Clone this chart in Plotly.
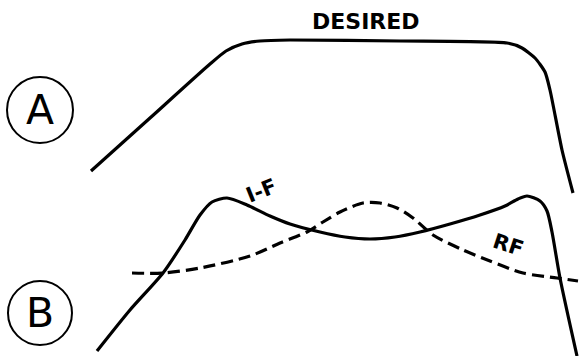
import plotly.graph_objects as go

# Schematic response curves (horizontal position, vertical position measured downward)
desired_x = [91, 150, 210, 226, 242, 260, 290, 400, 507, 522, 535, 545, 550, 562, 573]
desired_y = [171, 118, 64, 51, 44, 41, 40, 41, 43, 48, 58, 72, 90, 150, 193]

if_x = [97, 130, 163, 185, 200, 212, 227, 247, 270, 290, 320, 345, 370, 395, 420, 450, 480, 505, 518, 527, 540, 547, 552, 560, 577]
if_y = [351, 310, 273, 240, 215, 202, 198, 205, 216, 224, 232, 237, 239, 237, 232, 224, 215, 206, 199, 196, 201, 211, 232, 278, 356]

rf_x = [132, 163, 200, 250, 280, 307, 323, 340, 363, 380, 397, 413, 433, 463, 490, 523, 557, 578]
rf_y = [273, 273, 268, 256, 243, 232, 222, 212, 203, 203, 208, 218, 235, 250, 261, 273, 278, 281]

labels = ["DESIRED", "I-F", "RF"]
label_x = [366, 261, 508]
label_y = [21, 191, 245]
label_angle = [0, -22, 18]
label_size = [22, 21, 21]

circle_labels = ["A", "B"]
circle_cx = [40, 40]
circle_cy = [110, 313]
circle_r = [33, 32]

fig = go.Figure()
fig.add_trace(go.Scatter(x=desired_x, y=desired_y, mode="lines",
                         line=dict(color="black", width=3.2, shape="spline", smoothing=0.6),
                         hoverinfo="skip"))
fig.add_trace(go.Scatter(x=if_x, y=if_y, mode="lines",
                         line=dict(color="black", width=3.2, shape="spline", smoothing=0.7),
                         hoverinfo="skip"))
fig.add_trace(go.Scatter(x=rf_x, y=rf_y, mode="lines",
                         line=dict(color="black", width=3.2, shape="spline", smoothing=0.8,
                                   dash="12px,6px"),
                         hoverinfo="skip"))

for t, x, y, a, s in zip(labels, label_x, label_y, label_angle, label_size):
    fig.add_annotation(x=x, y=y, text=t, showarrow=False, textangle=a,
                       font=dict(family="DejaVu Sans", size=s, color="black", weight="bold"))

for t, cx, cy, r in zip(circle_labels, circle_cx, circle_cy, circle_r):
    fig.add_shape(type="circle", xref="x", yref="y",
                  x0=cx - r, x1=cx + r, y0=cy - r, y1=cy + r,
                  line=dict(color="black", width=2))
    fig.add_annotation(x=cx, y=cy, text=t, showarrow=False,
                       font=dict(family="DejaVu Sans", size=41, color="black"))

fig.update_layout(
    width=579, height=356,
    margin=dict(l=0, r=0, t=0, b=0),
    paper_bgcolor="white", plot_bgcolor="white",
    showlegend=False,
    xaxis=dict(range=[0, 579], visible=False, fixedrange=True),
    yaxis=dict(range=[356, 0], visible=False, fixedrange=True),
)

fig.write_html("out.html", config={"displayModeBar": False},
               post_script="document.body.style.margin='0';document.body.style.overflow='hidden';")
